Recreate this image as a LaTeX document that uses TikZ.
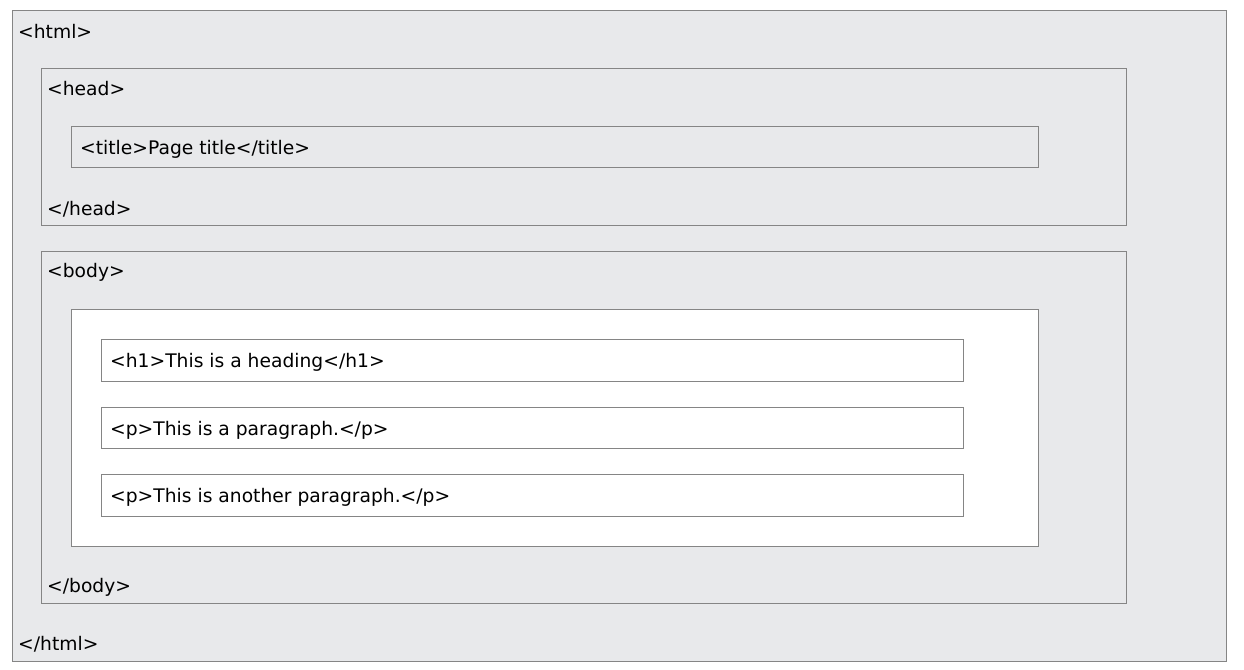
\documentclass[tikz,border=0pt]{standalone}
\usepackage{xcolor}
\usepackage{fontspec}
\setmainfont{DejaVu Sans}
\usepackage{tikz}
\usetikzlibrary{positioning}

\definecolor{pagegray}{HTML}{E8E9EB}
\definecolor{linegray}{HTML}{858585}

\begin{document}
\begin{tikzpicture}[x=1pt,y=-1pt,
  box/.style={draw=linegray, fill=pagegray, line width=1pt, anchor=north west, inner sep=0pt},
  whitebox/.style={box, fill=white},
  tag/.style={anchor=west, inner sep=0pt, font=\fontsize{18.7}{22}\selectfont}]
\useasboundingbox[fill=white] (0,0) rectangle (1244,669);

% outer boxes
\node[box, minimum width=1214pt, minimum height=651pt] (html) at (12,10) {};
\node[box, minimum width=1085pt, minimum height=157pt] (head) at (41,68) {};
\node[box, minimum width=967pt, minimum height=41pt] (title) at (71,126) {};
\node[box, minimum width=1085pt, minimum height=352pt] (body) at (41,251) {};
\node[whitebox, minimum width=967pt, minimum height=237pt] (content) at (71,309) {};
\node[whitebox, minimum width=862pt, minimum height=42pt] (h1) at (101,339) {};
\node[whitebox, minimum width=862pt, minimum height=41pt] (p1) at (101,407) {};
\node[whitebox, minimum width=862pt, minimum height=42pt] (p2) at (101,474) {};

% tags
\node[tag] (htmlopen) at (18,31) {<html>};
\node[tag] (headopen) at (47,89) {<head>};
\node[tag] (titletext) at (80,149) {<title>Page title</title>};
\node[tag] (headclose) at (47,209) {</head>};
\node[tag] (bodyopen) at (47,272) {<body>};
\node[tag] (h1text) at (110,362) {<h1>This is a heading</h1>};
\node[tag] (p1text) at (110,430) {<p>This is a paragraph.</p>};
\node[tag] (p2text) at (110,497) {<p>This is another paragraph.</p>};
\node[tag] (bodyclose) at (47,587) {</body>};
\node[tag] (htmlclose) at (18,644) {</html>};
\end{tikzpicture}
\end{document}
